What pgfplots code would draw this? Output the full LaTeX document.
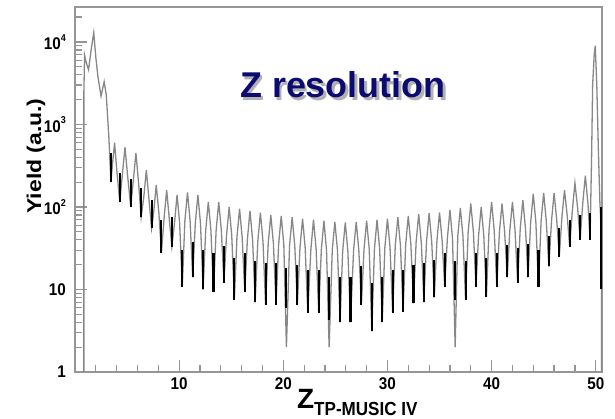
\documentclass[border=0pt]{standalone}
\usepackage{pgfplots}
\pgfplotsset{compat=1.18}
\usepackage{fontspec}
\setmainfont{Liberation Sans}
\newfontfamily\tickfont[FakeStretch=0.9]{Liberation Sans}
\newfontfamily\ylabfont[FakeStretch=1.15]{Liberation Sans}
\newfontfamily\subfont[FakeStretch=0.9]{Liberation Sans}
\definecolor{navy}{RGB}{12,12,112}
\definecolor{histgray}{RGB}{135,135,135}
\definecolor{framegray}{RGB}{150,150,150}
\newcommand\sexp[1]{\raisebox{0.5em}{\fontsize{10}{10}\selectfont #1}}
\begin{document}
\begin{tikzpicture}
\path[use as bounding box] (0,0) rectangle (615bp,419bp);
\begin{axis}[
  at={(75bp,47bp)}, anchor=south west,
  scale only axis, width=527bp, height=365bp,
  xmin=0, xmax=50.6, ymode=log, ymin=1, ymax=26500,
  axis line style={framegray, line width=1.4bp},
  tick style={framegray, line width=1.2bp},
  major tick length=12bp, minor tick length=7bp,
  tick pos=left, tick align=inside,
  xtick={10,20,30,40,50},
  xticklabels={10,20,30,40,50},
  minor xtick={2,4,6,8,12,14,16,18,22,24,26,28,32,34,36,38,42,44,46,48},
  ytick={1,10,100,1000,10000},
  yticklabels={1,10,10\sexp{2},10\sexp{3},10\sexp{4}},
  minor ytick={2,3,4,5,6,7,8,9,20,30,40,50,60,70,80,90,200,300,400,500,600,700,800,900,2000,3000,4000,5000,6000,7000,8000,9000,20000},
  xticklabel style={font=\tickfont\bfseries\fontsize{17}{17}\selectfont, inner sep=0pt, yshift=-5bp},
  yticklabel style={font=\tickfont\bfseries\fontsize{17}{17}\selectfont, inner sep=0pt, xshift=-9bp},
  unbounded coords=jump,
  clip=true,
]
\addplot[histgray, line width=1.3bp] coordinates {
(0.85,1) (0.85,2400) (0.92,6900) (1.05,5800) (1.3,4600) (1.55,8000) (1.8,13000)
(2.0,6500) (2.2,3800) (2.5,2200) (2.8,3300) (3.0,2300) (3.25,700) (3.45,200)
(3.6,330) (3.8,600) (4.0,290) (4.3,115) (4.55,250) (4.8,530) (5.05,240) (5.35,100)
(5.6,210) (5.85,450) (6.1,200) (6.35,75) (6.6,130) (6.85,280) (7.1,125) (7.35,55)
(7.55,85) (7.8,185) (8.05,85) (8.3,28) (8.55,72) (8.8,160) (9.05,72) (9.3,33)
(9.55,63) (9.8,140) (10.05,63) (10.3,10.7) (10.55,68) (10.8,150) (11.05,68) (11.3,14)
(11.55,63) (11.8,140) (12.05,63) (12.3,10) (12.55,52) (12.8,115) (13.05,52) (13.3,9.3)
(13.55,52) (13.8,115) (14.05,52) (14.3,12) (14.55,45) (14.8,100) (15.05,45) (15.3,7.5)
(15.55,43) (15.8,95) (16.05,43) (16.3,9.3) (16.55,40) (16.8,90) (17.05,40) (17.3,7)
(17.55,38) (17.8,85) (18.05,38) (18.3,6.5) (18.55,36) (18.8,80) (19.05,36) (19.3,6.5)
(19.55,35) (19.8,78) (20.05,35) (20.3,2) (20.6,34) (20.85,75) (21.1,34) (21.35,6.5)
(21.6,32) (21.85,72) (22.1,32) (22.35,5.2) (22.65,31) (22.9,70) (23.15,31) (23.4,5.2)
(23.65,30) (23.9,68) (24.15,30) (24.4,2) (24.7,30) (24.95,66) (25.2,30) (25.45,4)
(25.7,29) (25.95,65) (26.2,29) (26.45,4) (26.75,30) (27.0,66) (27.25,30) (27.5,6.5)
(27.75,31) (28.0,68) (28.25,31) (28.5,3.1) (28.75,31) (29.0,70) (29.25,31) (29.5,4)
(29.75,32) (30.0,72) (30.25,32) (30.5,5.2) (30.75,34) (31.0,75) (31.25,34) (31.5,5.4)
(31.75,35) (32.0,78) (32.25,35) (32.5,6.8) (32.75,37) (33.0,82) (33.25,37) (33.5,7)
(33.75,38) (34.0,84) (34.25,38) (34.5,8) (34.75,39) (35.0,86) (35.25,39) (35.5,10.7)
(35.75,41) (36.0,92) (36.25,41) (36.5,2) (36.75,44) (37.0,97) (37.25,44) (37.5,7.5)
(37.75,50) (38.0,110) (38.25,50) (38.5,10.7) (38.75,45) (39.0,100) (39.25,45) (39.5,8.1)
(39.75,52) (40.0,115) (40.25,52) (40.5,10.7) (40.75,50) (41.0,110) (41.25,50) (41.5,14)
(41.75,52) (42.0,115) (42.25,52) (42.5,12) (42.75,55) (43.0,121) (43.25,55) (43.5,14)
(43.75,65) (44.0,145) (44.25,65) (44.5,10.7) (44.75,67) (45.0,148) (45.25,67) (45.5,19)
(45.75,67) (46.0,148) (46.25,70) (46.5,25) (46.75,75) (47.0,160) (47.25,80) (47.5,33)
(47.75,90) (48.0,195) (48.25,100) (48.5,40) (48.75,110) (49.0,240) (49.25,110) (49.45,40)
(49.6,400) (49.7,3000) (49.85,7000) (49.95,9000) (50.1,3000) (50.25,500) (50.4,110)
(50.5,60) (50.55,8) (50.55,1)
};
\addplot[black, line width=2.1bp] coordinates {
(3.45,200) (3.45,450) (3.45,nan)
(4.3,115) (4.3,260) (4.3,nan)
(5.35,100) (5.35,220) (5.35,nan)
(6.35,75) (6.35,170) (6.35,nan)
(7.35,55) (7.35,120) (7.35,nan)
(8.3,28) (8.3,70) (8.3,nan)
(9.3,33) (9.3,75) (9.3,nan)
(10.3,10.7) (10.3,30) (10.3,nan)
(11.3,14) (11.3,38) (11.3,nan)
(12.3,10) (12.3,30) (12.3,nan)
(13.3,9.3) (13.3,28) (13.3,nan)
(14.3,12) (14.3,34) (14.3,nan)
(15.3,7.5) (15.3,24) (15.3,nan)
(16.3,9.3) (16.3,28) (16.3,nan)
(17.3,7) (17.3,22) (17.3,nan)
(18.3,6.5) (18.3,21) (18.3,nan)
(19.3,6.5) (19.3,21) (19.3,nan)
(20.3,6) (20.3,18) (20.3,nan)
(21.35,6.5) (21.35,20) (21.35,nan)
(22.35,5.2) (22.35,17) (22.35,nan)
(23.4,5.2) (23.4,17) (23.4,nan)
(24.4,4.3) (24.4,14) (24.4,nan)
(25.45,4) (25.45,14) (25.45,nan)
(26.45,4) (26.45,14) (26.45,nan)
(27.5,6.5) (27.5,19) (27.5,nan)
(28.5,3.1) (28.5,12) (28.5,nan)
(29.5,4) (29.5,14) (29.5,nan)
(30.5,5.2) (30.5,17) (30.5,nan)
(31.5,5.4) (31.5,17) (31.5,nan)
(32.5,6.8) (32.5,20) (32.5,nan)
(33.5,7) (33.5,21) (33.5,nan)
(34.5,8) (34.5,23) (34.5,nan)
(35.5,10.7) (35.5,28) (35.5,nan)
(36.5,7.5) (36.5,22) (36.5,nan)
(37.5,7.5) (37.5,22) (37.5,nan)
(38.5,10.7) (38.5,28) (38.5,nan)
(39.5,8.1) (39.5,24) (39.5,nan)
(40.5,10.7) (40.5,28) (40.5,nan)
(41.5,14) (41.5,35) (41.5,nan)
(42.5,12) (42.5,32) (42.5,nan)
(43.5,14) (43.5,36) (43.5,nan)
(44.5,10.7) (44.5,30) (44.5,nan)
(45.5,19) (45.5,45) (45.5,nan)
(46.5,25) (46.5,55) (46.5,nan)
(47.5,33) (47.5,70) (47.5,nan)
(48.5,40) (48.5,80) (48.5,nan)
(49.45,40) (49.45,85) (49.45,nan)
(50.55,10) (50.55,100)
};
\end{axis}
\node[anchor=base west, inner sep=0pt, text=black!30, font=\bfseries\fontsize{36}{36}\selectfont] at (242.5bp,318.5bp) {Z resolution};
\node[anchor=base west, inner sep=0pt, text=navy, font=\bfseries\fontsize{36}{36}\selectfont] at (240bp,321bp) {Z resolution};
\node[rotate=90, anchor=center, inner sep=0pt, font=\ylabfont\bfseries\fontsize{20}{20}\selectfont] at (36bp,263bp) {Yield (a.u.)};
\node[anchor=base west, inner sep=0pt] at (297bp,11bp) {{\bfseries\fontsize{28}{28}\selectfont Z}\raisebox{-7bp}{\subfont\bfseries\fontsize{19}{19}\selectfont TP-MUSIC IV}};
\end{tikzpicture}
\end{document}
